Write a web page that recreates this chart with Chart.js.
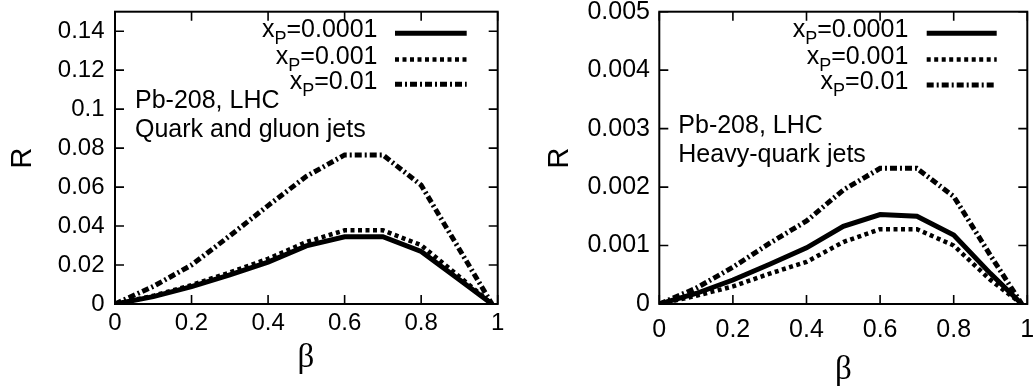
<!DOCTYPE html>
<html>
<head>
<meta charset="utf-8">
<script src="https://cdn.jsdelivr.net/npm/chart.js@4.4.0/dist/chart.umd.min.js"></script>
<style>
  html, body { margin: 0; padding: 0; background: #fff; overflow: hidden; }
  #wrap { position: relative; width: 1033px; height: 390px; overflow: hidden; }
  canvas { position: absolute; top: 0; }
  #left { left: 0; }
  #right { left: 520px; }
</style>
</head>
<body>
<div id="wrap">
  <canvas id="left" width="520" height="390"></canvas>
  <canvas id="right" width="530" height="390"></canvas>
</div>
<script>
// beta values (x axis)
const beta = [0, 0.1, 0.2, 0.3, 0.4, 0.5, 0.6, 0.7, 0.8, 0.9, 0.985];

// Quark and gluon jets
const qgP0001 = [0, 0.0038, 0.0089, 0.0150, 0.0215, 0.0298, 0.0345, 0.0345, 0.0270, 0.0125, 0];
const qgP001  = [0, 0.0042, 0.0097, 0.0162, 0.0232, 0.0318, 0.0378, 0.0378, 0.0302, 0.0140, 0];
const qgP01   = [0, 0.0090, 0.0200, 0.0350, 0.0505, 0.0655, 0.0765, 0.0765, 0.0610, 0.0280, 0];

// Heavy-quark jets
const hqP0001 = [0, 0.00018, 0.00041, 0.00068, 0.00096, 0.00133, 0.00153, 0.00150, 0.00118, 0.00052, 0];
const hqP001  = [0, 0.00014, 0.00030, 0.00052, 0.00072, 0.00106, 0.00128, 0.00128, 0.00100, 0.00041, 0];
const hqP01   = [0, 0.00027, 0.00063, 0.00104, 0.00142, 0.00195, 0.00232, 0.00232, 0.00184, 0.00083, 0];

const seriesLabels = ["0.0001", "0.001", "0.01"];
const xTicks = [0, 0.2, 0.4, 0.6, 0.8, 1];
const yTicksLeft = [0, 0.02, 0.04, 0.06, 0.08, 0.1, 0.12, 0.14];
const yTicksRight = [0, 0.001, 0.002, 0.003, 0.004, 0.005];

const lineStyles = [
  { width: 5, dash: [] },
  { width: 4.5, dash: [4, 3.5] },
  { width: 5, dash: [7, 3, 2, 3] }
];

const sansFont = "'Liberation Sans', Arial, sans-serif";

function makeDatasets(seriesList) {
  return seriesList.map((ys, i) => ({
    label: "x_P=" + seriesLabels[i],
    data: beta.map((b, j) => ({ x: b, y: ys[j] })),
    borderColor: "#000",
    borderWidth: lineStyles[i].width,
    borderDash: lineStyles[i].dash,
    borderCapStyle: "butt",
    borderJoinStyle: "miter",
    pointRadius: 0,
    tension: 0,
    fill: false
  }));
}

function framePlugin(cfg) {
  return {
    id: "frame",
    afterDraw(chart) {
      const ctx = chart.ctx;
      const a = chart.chartArea;
      const xs = chart.scales.x;
      const ys = chart.scales.y;
      ctx.save();
      ctx.strokeStyle = "#000";
      ctx.setLineDash([]);
      ctx.lineWidth = 2;
      ctx.strokeRect(a.left, a.top, a.right - a.left, a.bottom - a.top);

      // inward ticks on all four sides
      ctx.lineWidth = 1.6;
      ctx.beginPath();
      xs.ticks.forEach(t => {
        const px = xs.getPixelForValue(t.value);
        ctx.moveTo(px, a.bottom); ctx.lineTo(px, a.bottom - 9);
        ctx.moveTo(px, a.top); ctx.lineTo(px, a.top + 9);
      });
      ys.ticks.forEach(t => {
        const py = ys.getPixelForValue(t.value);
        ctx.moveTo(a.left, py); ctx.lineTo(a.left + 9, py);
        ctx.moveTo(a.right, py); ctx.lineTo(a.right - 9, py);
      });
      ctx.stroke();

      ctx.fillStyle = "#000";
      // axis titles
      ctx.font = "29px " + sansFont;
      ctx.textAlign = "center";
      ctx.textBaseline = "middle";
      ctx.save();
      ctx.translate(cfg.rX, cfg.rY);
      ctx.rotate(-Math.PI / 2);
      ctx.fillText("R", 0, 0);
      ctx.restore();
      ctx.font = "33px 'Liberation Serif', 'DejaVu Serif', serif";
      ctx.fillText("β", cfg.bX, cfg.bY);

      // annotation
      ctx.font = "25px " + sansFont;
      ctx.textAlign = "left";
      ctx.textBaseline = "alphabetic";
      cfg.notes.forEach((n, i) => ctx.fillText(n, cfg.noteX, cfg.noteY[i]));

      // legend
      chart.data.datasets.forEach((ds, i) => {
        const base = cfg.legY[i];
        ctx.textAlign = "right";
        ctx.font = "25px " + sansFont;
        const tail = "=" + seriesLabels[i];
        ctx.fillText(tail, cfg.legTextRight, base);
        const w1 = ctx.measureText(tail).width;
        ctx.font = "18px " + sansFont;
        ctx.fillText("P", cfg.legTextRight - w1, base + 7);
        const w2 = ctx.measureText("P").width;
        ctx.font = "25px " + sansFont;
        ctx.fillText("x", cfg.legTextRight - w1 - w2, base);

        ctx.beginPath();
        ctx.lineWidth = ds.borderWidth;
        ctx.setLineDash(ds.borderDash);
        ctx.moveTo(cfg.legLine[0], cfg.legLineY[i]);
        ctx.lineTo(cfg.legLine[1], cfg.legLineY[i]);
        ctx.stroke();
      });
      ctx.restore();
    }
  };
}

function makeChart(id, seriesList, yMax, yTicks, p) {
  const ctx = document.getElementById(id).getContext("2d");
  return new Chart(ctx, {
    type: "line",
    data: { datasets: makeDatasets(seriesList) },
    options: {
      responsive: false,
      animation: false,
      devicePixelRatio: 1,
      layout: { padding: { left: 0, right: p.padRight, top: 11.7, bottom: 0 } },
      plugins: { legend: { display: false }, tooltip: { enabled: false } },
      scales: {
        x: {
          type: "linear",
          min: 0,
          max: 1,
          afterBuildTicks: s => { s.ticks = xTicks.map(v => ({ value: v })); },
          afterFit: s => { s.height = 390 - 304; s.paddingLeft = 0; s.paddingRight = 0; },
          grid: { display: false, drawTicks: false },
          border: { display: false },
          ticks: {
            color: "#000",
            font: { family: sansFont, size: p.fontSize, lineHeight: 1 },
            padding: p.xPad,
            maxRotation: 0,
            autoSkip: false,
            callback: v => String(v)
          }
        },
        y: {
          type: "linear",
          min: 0,
          max: yMax,
          afterBuildTicks: s => { s.ticks = yTicks.map(v => ({ value: v })); },
          afterFit: s => { s.width = p.yWidth; s.paddingTop = 0; s.paddingBottom = 0; },
          grid: { display: false, drawTicks: false },
          border: { display: false },
          ticks: {
            color: "#000",
            font: { family: sansFont, size: p.fontSize, lineHeight: 1 },
            padding: p.yPad,
            autoSkip: false,
            callback: v => String(v)
          }
        }
      }
    },
    plugins: [framePlugin(p)]
  });
}

makeChart("left", [qgP0001, qgP001, qgP01], 0.15, yTicksLeft, {
  padRight: 520 - 497.7, yWidth: 115, fontSize: 24, xPad: 7, yPad: 10.5,
  rX: 23, rY: 158, bX: 306, bY: 358,
  notes: ["Pb-208, LHC", "Quark and gluon jets"], noteX: 135, noteY: [108.3, 136.7],
  legTextRight: 377.5, legY: [37.3, 63.5, 89.3], legLine: [395, 466.7], legLineY: [33.3, 59.5, 84.3]
});

makeChart("right", [hqP0001, hqP001, hqP01], 0.005, yTicksRight, {
  padRight: 530 - 507.3, yWidth: 139.3, fontSize: 25, xPad: 14, yPad: 9.3,
  rX: 40, rY: 158, bX: 323.3, bY: 370,
  notes: ["Pb-208, LHC", "Heavy-quark jets"], noteX: 158.3, noteY: [132.7, 161.7],
  legTextRight: 388.3, legY: [37.3, 63.5, 89.3], legLine: [406.7, 476.7], legLineY: [33.3, 59.5, 85]
});
</script>
</body>
</html>
